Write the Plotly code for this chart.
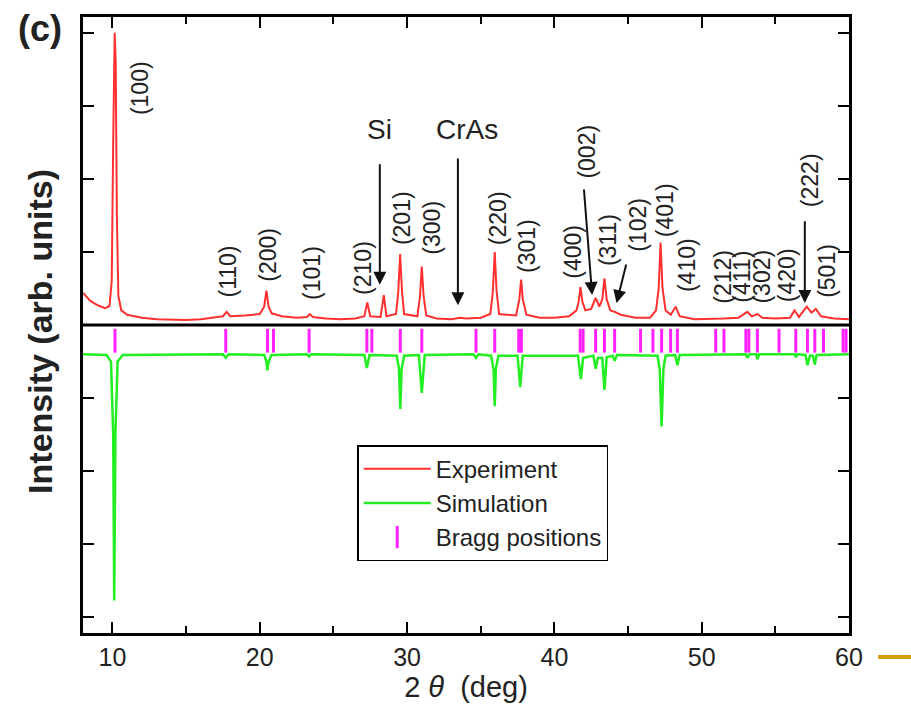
import plotly.graph_objects as go

# ---------------- data ----------------
exp_x = [8.0, 8.5, 9.0, 9.5, 9.8, 9.95, 10.05, 10.15, 10.22, 10.3, 10.4, 10.6, 11.0, 12.0, 13.0, 14.0,
         15.0, 16.0, 17.0, 17.5, 17.75, 18.0, 19.0, 20.0, 20.3, 20.45, 20.6, 20.8, 21.5, 22.5, 23.2,
         23.4, 23.6, 24.5, 25.5, 26.5, 27.1, 27.3, 27.5, 28.2, 28.42, 28.6, 29.25, 29.4, 29.53, 29.66,
         29.8, 30.7, 30.88, 31.0, 31.12, 31.3, 32.0, 33.0, 33.6, 34.0, 35.0, 35.65, 35.82, 35.95, 36.08,
         36.25, 37.4, 37.62, 37.74, 37.86, 38.1, 39.0, 40.0, 41.0, 41.5, 41.65, 41.77, 41.9, 42.1, 42.5,
         42.8, 43.05, 43.25, 43.4, 43.55, 43.8, 44.1, 44.5, 45.5, 46.5, 46.9, 47.08, 47.21, 47.34, 47.55,
         47.9, 48.23, 48.5, 49.5, 50.5, 51.5, 52.5, 53.1, 53.4, 53.8, 54.1, 55.0, 56.0, 56.3, 56.6,
         57.13, 57.45, 57.75, 58.1, 59.0, 60.0]
exp_y = [0.44, 0.33, 0.27, 0.23, 0.26, 0.6, 2.5, 4.0, 3.6, 1.5, 0.4, 0.2, 0.14, 0.10, 0.08, 0.07,
         0.07, 0.08, 0.10, 0.12, 0.18, 0.12, 0.13, 0.15, 0.25, 0.47, 0.25, 0.16, 0.12, 0.10, 0.11,
         0.15, 0.11, 0.09, 0.08, 0.09, 0.12, 0.31, 0.12, 0.11, 0.41, 0.12, 0.15, 0.45, 0.97, 0.45,
         0.15, 0.12, 0.40, 0.80, 0.40, 0.13, 0.09, 0.08, 0.10, 0.09, 0.10, 0.15, 0.45, 1.00, 0.45,
         0.15, 0.13, 0.35, 0.62, 0.35, 0.14, 0.10, 0.10, 0.12, 0.20, 0.32, 0.52, 0.32, 0.20, 0.22,
         0.37, 0.25, 0.35, 0.64, 0.35, 0.20, 0.18, 0.14, 0.10, 0.10, 0.20, 0.50, 1.13, 0.50, 0.20,
         0.14, 0.25, 0.12, 0.08, 0.08, 0.09, 0.10, 0.18, 0.12, 0.15, 0.10, 0.09, 0.10, 0.20, 0.11,
         0.25, 0.17, 0.22, 0.12, 0.09, 0.08]

sim_x = [8.0, 9.6, 9.9, 10.05, 10.12, 10.2, 10.35, 10.7, 17.5, 17.69, 17.9, 20.3, 20.45, 20.52, 20.6,
         20.8, 23.2, 23.35, 23.5, 27.1, 27.27, 27.45, 29.3, 29.45, 29.54, 29.63, 29.8, 30.8, 31.0,
         31.2, 34.5, 34.68, 34.85, 35.7, 35.87, 35.95, 36.03, 36.2, 37.5, 37.68, 37.85, 41.6, 41.8,
         41.95, 42.65, 42.8, 42.95, 43.25, 43.4, 43.55, 43.95, 44.09, 44.25, 47.0, 47.15, 47.28, 47.4,
         47.55, 48.2, 48.35, 48.5, 53.0, 53.1, 53.25, 53.7, 53.78, 53.9, 56.3, 56.39, 56.5, 57.05,
         57.18, 57.35, 57.55, 57.68, 57.8, 60.0]
sim_y = [-0.40, -0.41, -0.50, -1.50, -3.77, -1.50, -0.50, -0.41, -0.40, -0.45, -0.40, -0.41, -0.50,
         -0.62, -0.50, -0.41, -0.40, -0.43, -0.40, -0.41, -0.59, -0.41, -0.42, -0.60, -1.15, -0.60,
         -0.42, -0.41, -0.93, -0.41, -0.40, -0.45, -0.40, -0.42, -0.60, -1.11, -0.60, -0.42, -0.42,
         -0.85, -0.42, -0.42, -0.74, -0.45, -0.42, -0.60, -0.45, -0.45, -0.89, -0.44, -0.42, -0.49,
         -0.41, -0.42, -0.60, -1.39, -0.60, -0.42, -0.41, -0.55, -0.41, -0.40, -0.45, -0.40, -0.40,
         -0.47, -0.40, -0.40, -0.44, -0.40, -0.41, -0.55, -0.42, -0.42, -0.54, -0.41, -0.40]

bragg_x = [10.17, 17.69, 20.52, 20.93, 23.35, 27.27, 27.61, 29.54, 31.0, 34.68, 35.95, 37.58, 37.76,
           41.75, 41.95, 42.8, 43.4, 44.09, 45.85, 46.69, 47.28, 47.89, 48.35, 50.95, 51.51, 53.0,
           53.2, 53.78, 55.25, 56.39, 57.18, 57.68, 58.27, 59.6, 59.8]
bragg_row = -0.215

hkl_labels = ["(100)", "(110)", "(200)", "(101)", "(210)", "(201)", "(300)", "(220)", "(301)",
              "(400)", "(002)", "(311)", "(102)", "(401)", "(410)", "(212)", "(411)", "(302)",
              "(420)", "(222)", "(501)"]
hkl_x = [11.86, 17.83, 20.55, 23.53, 27.0, 29.71, 31.68, 36.16, 38.13, 41.25, 42.2, 43.63, 45.67,
         47.5, 49.0, 51.44, 52.73, 54.08, 55.78, 57.34, 58.5]
hkl_y = [3.24, 0.73, 0.96, 0.71, 0.78, 1.46, 1.33, 1.46, 1.08, 1.0, 2.37, 1.16, 1.37, 1.57, 0.82,
         0.66, 0.66, 0.66, 0.68, 1.98, 0.74]

# arrows: (tail x, tail y, head x, head y)
arrow_tail_x = [28.15, 33.45, 42.0, 44.9, 57.0]
arrow_tail_y = [2.22, 2.30, 1.875, 0.85, 1.44]
arrow_head_x = [28.15, 33.45, 42.56, 44.22, 57.0]
arrow_head_y = [0.55, 0.27, 0.41, 0.30, 0.30]

phase_labels = ["Si", "CrAs"]
phase_x = [28.1, 34.07]
phase_y = [2.68, 2.68]

FONT = "Arial, Liberation Sans, Helvetica, sans-serif"

fig = go.Figure()
fig.add_trace(go.Scatter(x=exp_x, y=exp_y, mode="lines", name="Experiment",
                         line=dict(color="#ff3030", width=2)))
fig.add_trace(go.Scatter(x=sim_x, y=sim_y, mode="lines", name="Simulation",
                         line=dict(color="#22ee22", width=2.5)))
fig.add_trace(go.Scatter(x=bragg_x, y=[bragg_row] * len(bragg_x), mode="markers",
                         name="Bragg positions",
                         marker=dict(symbol="line-ns-open", size=17, color="#ff22ff",
                                     line=dict(color="#ff22ff", width=3))))

# zero divider line
fig.add_shape(type="line", xref="paper", x0=0, x1=1, yref="y", y0=0, y1=0,
              line=dict(color="black", width=3))

for t, x, y in zip(hkl_labels, hkl_x, hkl_y):
    fig.add_annotation(x=x, y=y, text=t, textangle=-90, showarrow=False,
                       font=dict(family=FONT, size=23, color="#222"),
                       xanchor="center", yanchor="middle")

for t, x, y in zip(phase_labels, phase_x, phase_y):
    fig.add_annotation(x=x, y=y, text=t, showarrow=False,
                       font=dict(family=FONT, size=28, color="#222"),
                       xanchor="center", yanchor="middle")

for tx, ty, hx, hy in zip(arrow_tail_x, arrow_tail_y, arrow_head_x, arrow_head_y):
    fig.add_annotation(x=hx, y=hy, ax=tx, ay=ty, axref="x", ayref="y", xref="x", yref="y",
                       text="", showarrow=True, arrowhead=2, arrowsize=1.3,
                       arrowwidth=2, arrowcolor="#111")

fig.add_annotation(xref="paper", yref="paper", x=-0.056, y=0.982, text="<b>(c)</b>",
                   showarrow=False, font=dict(family=FONT, size=36, color="#222"),
                   xanchor="center", yanchor="middle")
fig.add_annotation(xref="paper", yref="paper", x=-0.056, y=0.489,
                   text="<b>Intensity (arb. units)</b>", textangle=-90, showarrow=False,
                   font=dict(family=FONT, size=34, color="#222"),
                   xanchor="center", yanchor="middle")

# decorative orange tick at bottom right
fig.add_shape(type="line", xref="paper", yref="paper", x0=1.038, x1=1.085, y0=-0.039, y1=-0.039,
              line=dict(color="#d4a00a", width=4))

fig.update_layout(
    width=911, height=708,
    margin=dict(l=83, r=62, t=17, b=75),
    paper_bgcolor="white", plot_bgcolor="white",
    font=dict(family=FONT, size=23, color="#222"),
    showlegend=True,
    legend=dict(x=0.358, y=0.305, xanchor="left", yanchor="top",
                bgcolor="white", bordercolor="black", borderwidth=1.5,
                font=dict(family=FONT, size=24, color="#222"),
                itemwidth=67, tracegroupgap=0),
    xaxis=dict(range=[8, 60], tickvals=[10, 20, 30, 40, 50, 60],
               ticks="inside", ticklen=11, tickwidth=2, tickcolor="black",
               tickfont=dict(size=25),
               minor=dict(tickvals=[15, 25, 35, 45, 55], ticks="inside", ticklen=7,
                          tickwidth=2, tickcolor="black"),
               showline=True, linecolor="black", linewidth=2.5, mirror="allticks",
               showgrid=False, zeroline=False,
               title=dict(text="2 <i>θ</i>  (deg)", font=dict(size=29), standoff=2)),
    yaxis=dict(range=[-4.215, 4.215], tickvals=[-4, -3, -2, -1, 0, 1, 2, 3, 4],
               ticks="inside", ticklen=11, tickwidth=2, tickcolor="black",
               showticklabels=False,
               showline=True, linecolor="black", linewidth=2.5, mirror="allticks",
               showgrid=False, zeroline=False),
)

fig.write_html("out.html")
